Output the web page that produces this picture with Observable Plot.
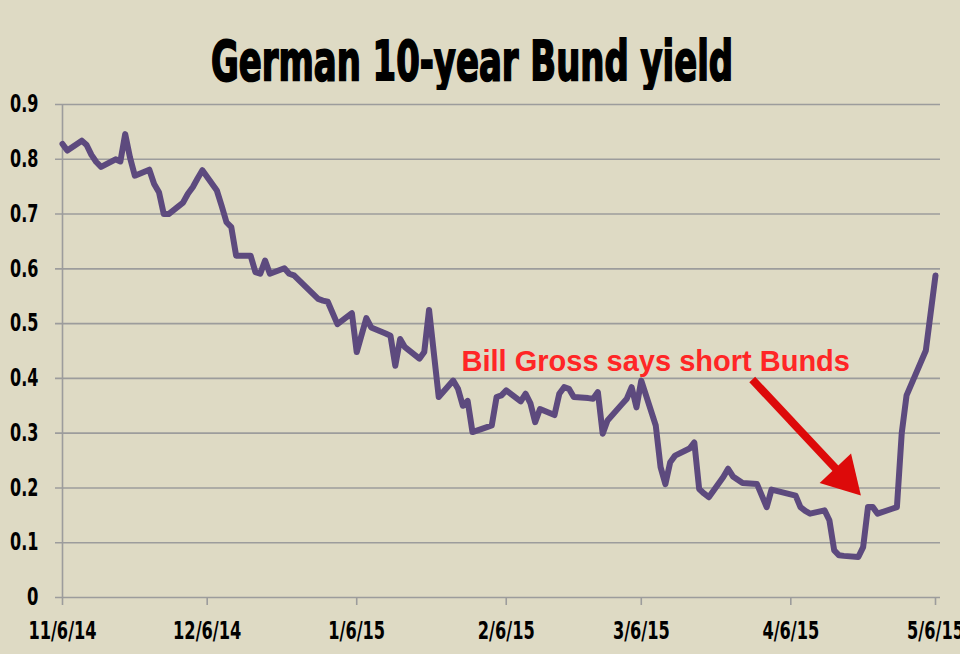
<!DOCTYPE html>
<html>
<head>
<meta charset="utf-8">
<script src="https://cdn.jsdelivr.net/npm/d3@7"></script>
<script src="https://cdn.jsdelivr.net/npm/@observablehq/plot@0.6"></script>
<style>
  html, body { margin: 0; padding: 0; background: #DEDAC4; overflow: hidden; }
  #title { display: block; }
  #chart svg { display: block; }
</style>
</head>
<body>
<svg id="title" width="960" height="90">
  <text x="472" y="80" text-anchor="middle" textLength="522" lengthAdjust="spacingAndGlyphs"
        font-family="'DejaVu Sans Condensed', 'Liberation Sans Narrow', sans-serif"
        font-weight="bold" font-size="56" fill="#000" stroke="#000" stroke-width="1.8">German 10-year Bund yield</text>
</svg>
<div id="chart"></div>
<script>
// ---- data ----
const dates = [
  "2014-11-06","2014-11-07","2014-11-10","2014-11-11","2014-11-12","2014-11-13","2014-11-14",
  "2014-11-17","2014-11-18","2014-11-19","2014-11-20","2014-11-21",
  "2014-11-24","2014-11-25","2014-11-26","2014-11-27","2014-11-28",
  "2014-12-01","2014-12-02","2014-12-03","2014-12-04","2014-12-05",
  "2014-12-08","2014-12-09","2014-12-10","2014-12-11","2014-12-12",
  "2014-12-15","2014-12-16","2014-12-17","2014-12-18","2014-12-19",
  "2014-12-22","2014-12-23","2014-12-24","2014-12-29","2014-12-30","2014-12-31",
  "2015-01-02","2015-01-05","2015-01-06","2015-01-08","2015-01-09",
  "2015-01-12","2015-01-13","2015-01-14","2015-01-15","2015-01-16",
  "2015-01-19","2015-01-20","2015-01-21","2015-01-23",
  "2015-01-26","2015-01-27","2015-01-28","2015-01-29","2015-01-30",
  "2015-02-02","2015-02-03","2015-02-04","2015-02-05","2015-02-06",
  "2015-02-09","2015-02-10","2015-02-11","2015-02-12","2015-02-13",
  "2015-02-16","2015-02-17","2015-02-18","2015-02-19","2015-02-20",
  "2015-02-23","2015-02-24","2015-02-25","2015-02-26","2015-02-27",
  "2015-03-02","2015-03-03","2015-03-04","2015-03-05","2015-03-06",
  "2015-03-09","2015-03-10","2015-03-11","2015-03-12","2015-03-13",
  "2015-03-16","2015-03-17","2015-03-18","2015-03-19","2015-03-20",
  "2015-03-23","2015-03-24","2015-03-25","2015-03-26","2015-03-27",
  "2015-03-30","2015-03-31","2015-04-01","2015-04-02",
  "2015-04-07","2015-04-08","2015-04-09","2015-04-10",
  "2015-04-13","2015-04-14","2015-04-15","2015-04-16","2015-04-17",
  "2015-04-20","2015-04-21","2015-04-22","2015-04-23","2015-04-24",
  "2015-04-27","2015-04-28","2015-04-29","2015-04-30",
  "2015-05-04","2015-05-06"
];
const yields = [
  0.828,0.816,0.834,0.826,0.808,0.795,0.786,
  0.800,0.796,0.846,0.803,0.770,
  0.781,0.755,0.740,0.700,0.700,
  0.721,0.737,0.749,0.765,0.780,
  0.743,0.715,0.685,0.676,0.624,
  0.624,0.594,0.591,0.615,0.591,
  0.601,0.591,0.588,0.545,0.542,0.540,
  0.499,0.519,0.448,0.510,0.493,
  0.482,0.478,0.423,0.472,0.457,
  0.436,0.448,0.525,0.366,
  0.396,0.381,0.350,0.359,0.302,
  0.311,0.314,0.366,0.369,0.378,
  0.358,0.372,0.355,0.320,0.344,
  0.333,0.372,0.384,0.381,0.366,
  0.364,0.363,0.375,0.299,0.323,
  0.353,0.363,0.384,0.347,0.396,
  0.314,0.238,0.207,0.247,0.259,
  0.272,0.283,0.198,0.190,0.183,
  0.220,0.235,0.221,0.215,0.209,
  0.207,0.186,0.165,0.197,
  0.186,0.165,0.158,0.153,
  0.159,0.141,0.086,0.077,0.076,
  0.074,0.092,0.165,0.165,0.153,
  0.162,0.165,0.300,0.369,
  0.451,0.588
];
const xTickDates = ["2014-11-06","2014-12-06","2015-01-06","2015-02-06","2015-03-06","2015-04-06","2015-05-06"];
const xTickLabels = ["11/6/14","12/6/14","1/6/15","2/6/15","3/6/15","4/6/15","5/6/15"];
const yTicks = [0, 0.1, 0.2, 0.3, 0.4, 0.5, 0.6, 0.7, 0.8, 0.9];
const yTickLabels = ["0","0.1","0.2","0.3","0.4","0.5","0.6","0.7","0.8","0.9"];

const noteText = ["Bill Gross says short Bunds"];
const noteDate = ["2015-03-09"];
const noteValue = [0.431];
const arrowFromDate = ["2015-03-29"];
const arrowFromValue = [0.398];
const arrowToDate = ["2015-04-17"];
const arrowToValue = [0.2195];

// ---- build tables ----
const parse = d3.utcParse("%Y-%m-%d");
const series = dates.map((d, i) => ({date: parse(d), value: yields[i]}));
const xTicks = xTickDates.map(parse);
const labelOf = new Map(xTicks.map((d, i) => [+d, xTickLabels[i]]));
const yLabelOf = new Map(yTicks.map((v, i) => [v, yTickLabels[i]]));
const note = noteText.map((t, i) => ({text: t, date: parse(noteDate[i]), value: noteValue[i]}));
const arrow = arrowFromDate.map((d, i) => ({
  x1: parse(d), y1: arrowFromValue[i], x2: parse(arrowToDate[i]), y2: arrowToValue[i]
}));

const tickFont = "'DejaVu Sans Condensed', 'Liberation Sans Narrow', sans-serif";

const chart = Plot.plot({
  width: 960,
  height: 564,
  marginLeft: 62,
  marginRight: 25,
  marginTop: 14,
  marginBottom: 57,
  style: {background: "transparent", overflow: "visible"},
  x: {type: "utc", domain: [parse("2014-11-06"), parse("2015-05-06")]},
  y: {domain: [0, 0.9]},
  marks: [
    Plot.ruleY(yTicks, {stroke: "#9C9C9C", strokeWidth: 1.6, insetLeft: -7, insetRight: -5}),
    Plot.ruleX([parse("2014-11-06")], {stroke: "#9C9C9C", strokeWidth: 1.6}),
    Plot.axisY({
      ticks: yTicks, tickSize: 0, tickPadding: 24,
      tickFormat: v => yLabelOf.get(v),
      fontFamily: tickFont, fontWeight: "bold", fontSize: 24, fill: "#000", label: null
    }),
    Plot.axisX({
      ticks: xTicks, tickSize: 8, tickPadding: 16, stroke: "#9C9C9C", strokeWidth: 1.6,
      tickFormat: d => labelOf.get(+d),
      fontFamily: tickFont, fontWeight: "bold", fontSize: 24, fill: "#000", label: null
    }),
    Plot.line(series, {x: "date", y: "value", stroke: "#5D4A7E", strokeWidth: 6, strokeLinejoin: "round", curve: "linear"}),
    Plot.text(note, {x: "date", y: "value", text: "text", fill: "#FF2626",
      fontFamily: "'Liberation Sans', Arial, sans-serif", fontWeight: "bold", fontSize: 29}),
    Plot.link(arrow, {x1: "x1", y1: "y1", x2: "x2", y2: "y2", stroke: "#DD0A0A", strokeWidth: 8}),
    Plot.dot(arrow, {x: "x2", y: "y2", symbol: "triangle", r: 16, fill: "#DD0A0A", stroke: null, rotate: 136.8})
  ]
});

// condense tick labels to the narrow look of the reference
chart.querySelectorAll('g[aria-label="x-axis tick label"] text, g[aria-label="y-axis tick label"] text').forEach(t => {
  const s = t.textContent;
  let w = 0;
  for (const c of s) w += /[0-9]/.test(c) ? 11.4 : 5.6;
  t.setAttribute("textLength", w.toFixed(1));
  t.setAttribute("lengthAdjust", "spacingAndGlyphs");
});

document.getElementById("chart").appendChild(chart);
</script>
</body>
</html>
